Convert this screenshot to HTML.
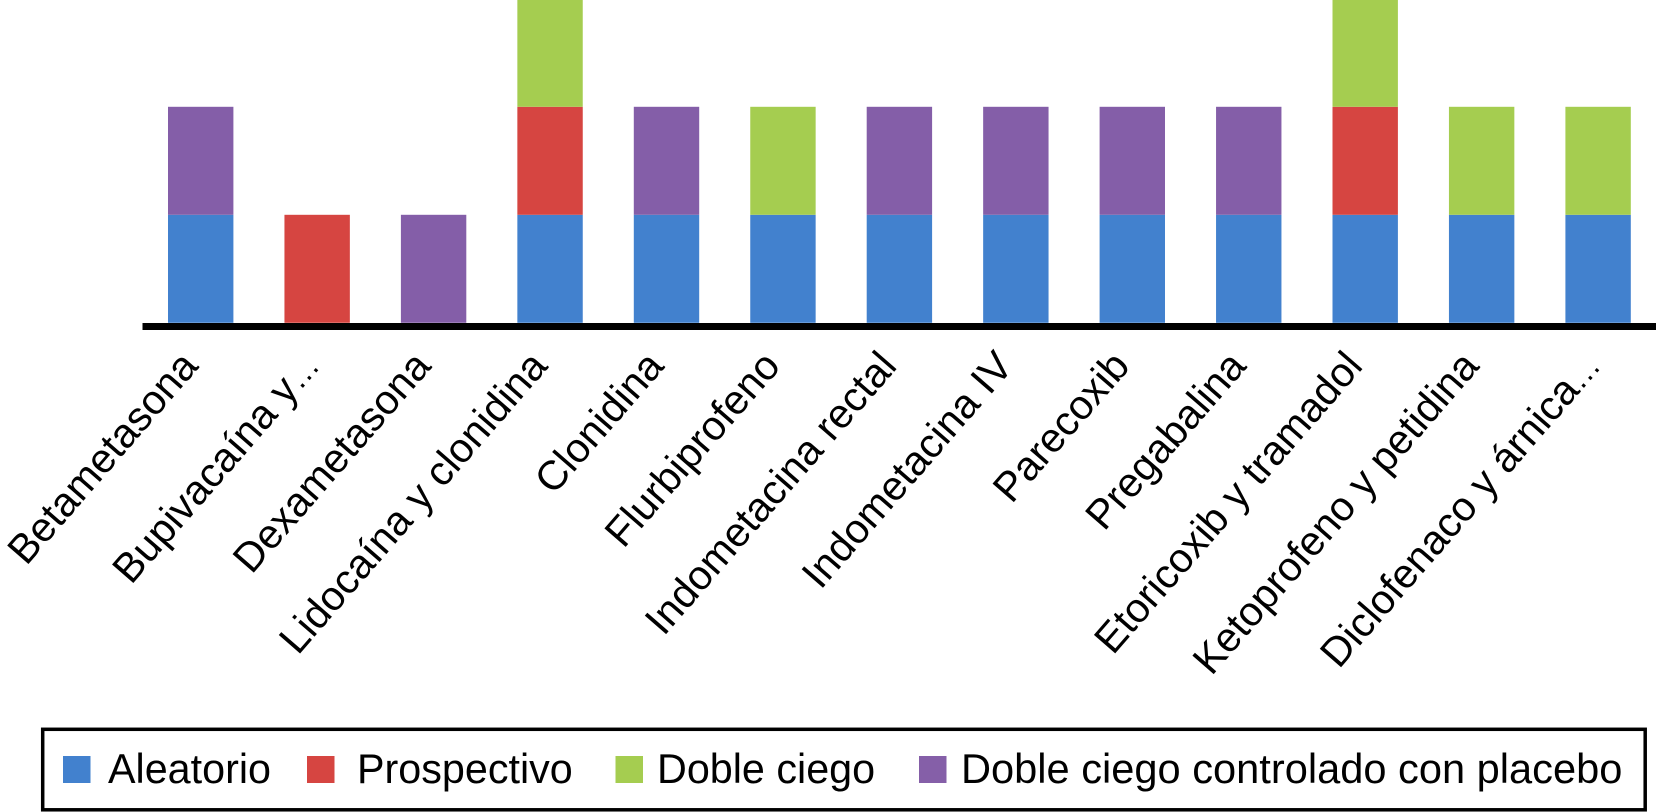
<!DOCTYPE html>
<html lang="es">
<head>
<meta charset="utf-8">
<title>Tipos de estudio por fármaco</title>
<style>
html,body{margin:0;padding:0;background:#fff;width:1656px;height:812px;overflow:hidden}
svg{display:block}
text{font-family:"Liberation Sans",Arial,sans-serif;fill:#000}
</style>
</head>
<body>
<svg id="chart" width="1656" height="812" viewBox="0 0 1656 812" xmlns="http://www.w3.org/2000/svg">
  <g id="bars"></g>
  <rect x="142.500" y="323" width="1513.500" height="7" fill="#000"/>
  <g id="labels"></g>
  <g>
    <rect x="42.700" y="729.300" width="1602.500" height="80.500" fill="#fff" stroke="#000" stroke-width="3.500"/>
    <g>
      <rect x="63" y="756" width="27.500" height="27" fill="#4281CE"/>
      <text x="108" y="783" font-size="41.300">Aleatorio</text>
    </g>
    <g>
      <rect x="307" y="756" width="27.500" height="27" fill="#D64541"/>
      <text x="357" y="783" font-size="41.300">Prospectivo</text>
    </g>
    <g>
      <rect x="615.500" y="756" width="27.500" height="27" fill="#A5CD50"/>
      <text x="657" y="783" font-size="41.300">Doble ciego</text>
    </g>
    <g>
      <rect x="919" y="756" width="27.500" height="27" fill="#855FA8"/>
      <text x="961" y="783" font-size="41.600">Doble ciego controlado con placebo</text>
    </g>
  </g>
</svg>
<script>
const categories = ["Betametasona","Bupivacaína y…","Dexametasona","Lidocaína y clonidina","Clonidina","Flurbiprofeno","Indometacina rectal","Indometacina IV","Parecoxib","Pregabalina","Etoricoxib y tramadol","Ketoprofeno y petidina","Diclofenaco y árnica…"];
const aleatorio   = [1,0,0,1,1,1,1,1,1,1,1,1,1];
const prospectivo = [0,1,0,1,0,0,0,0,0,0,1,0,0];
const dobleCiego  = [0,0,0,1,0,1,0,0,0,0,1,1,1];
const dobleCiegoPlacebo = [1,0,1,0,1,0,1,1,1,1,0,0,0];

const svgNS = 'http://www.w3.org/2000/svg';
const barsGroup = document.getElementById('bars');
const labelsGroup = document.getElementById('labels');
const seriesList = [
  {key:'aleatorio', values:aleatorio, color:'#4281CE'},
  {key:'prospectivo', values:prospectivo, color:'#D64541'},
  {key:'doble-ciego', values:dobleCiego, color:'#A5CD50'},
  {key:'doble-ciego-placebo', values:dobleCiegoPlacebo, color:'#845EA8'}
];
const firstLeft = 168, stepX = 116.45, barWidth = 65.4;
const y0 = 322.8, unitY = 108;
function xScale(i){ return firstLeft + i * stepX; }
function yScale(v){ return y0 - v * unitY; }

categories.forEach(function(cat, i){
  let acc = 0;
  seriesList.forEach(function(s){
    const v = s.values[i];
    if (!v) return;
    const r = document.createElementNS(svgNS, 'rect');
    
    
    r.setAttribute('x', xScale(i));
    r.setAttribute('y', yScale(acc + v));
    r.setAttribute('width', barWidth);
    r.setAttribute('height', v * unitY);
    r.setAttribute('fill', s.color);
    barsGroup.appendChild(r);
    acc += v;
  });
  const t = document.createElementNS(svgNS, 'text');
  
  
  const truncated = cat.endsWith('…');
  const ax = xScale(i) + barWidth / 2 - 1 + (truncated ? 5 : 0);
  const ay = 367;
  t.setAttribute('x', ax);
  t.setAttribute('y', ay);
  t.setAttribute('font-size', '41');
  t.setAttribute('text-anchor', 'end');
  t.setAttribute('transform', 'rotate(-49 ' + ax + ' ' + ay + ')');
  if (truncated) {
    t.appendChild(document.createTextNode(cat.slice(0, -1)));
    const dots = document.createElementNS(svgNS, 'tspan');
    
    
    dots.setAttribute('font-size', '32');
    dots.textContent = '…';
    t.appendChild(dots);
  } else {
    t.textContent = cat;
  }
  labelsGroup.appendChild(t);
});
</script>
</body>
</html>
